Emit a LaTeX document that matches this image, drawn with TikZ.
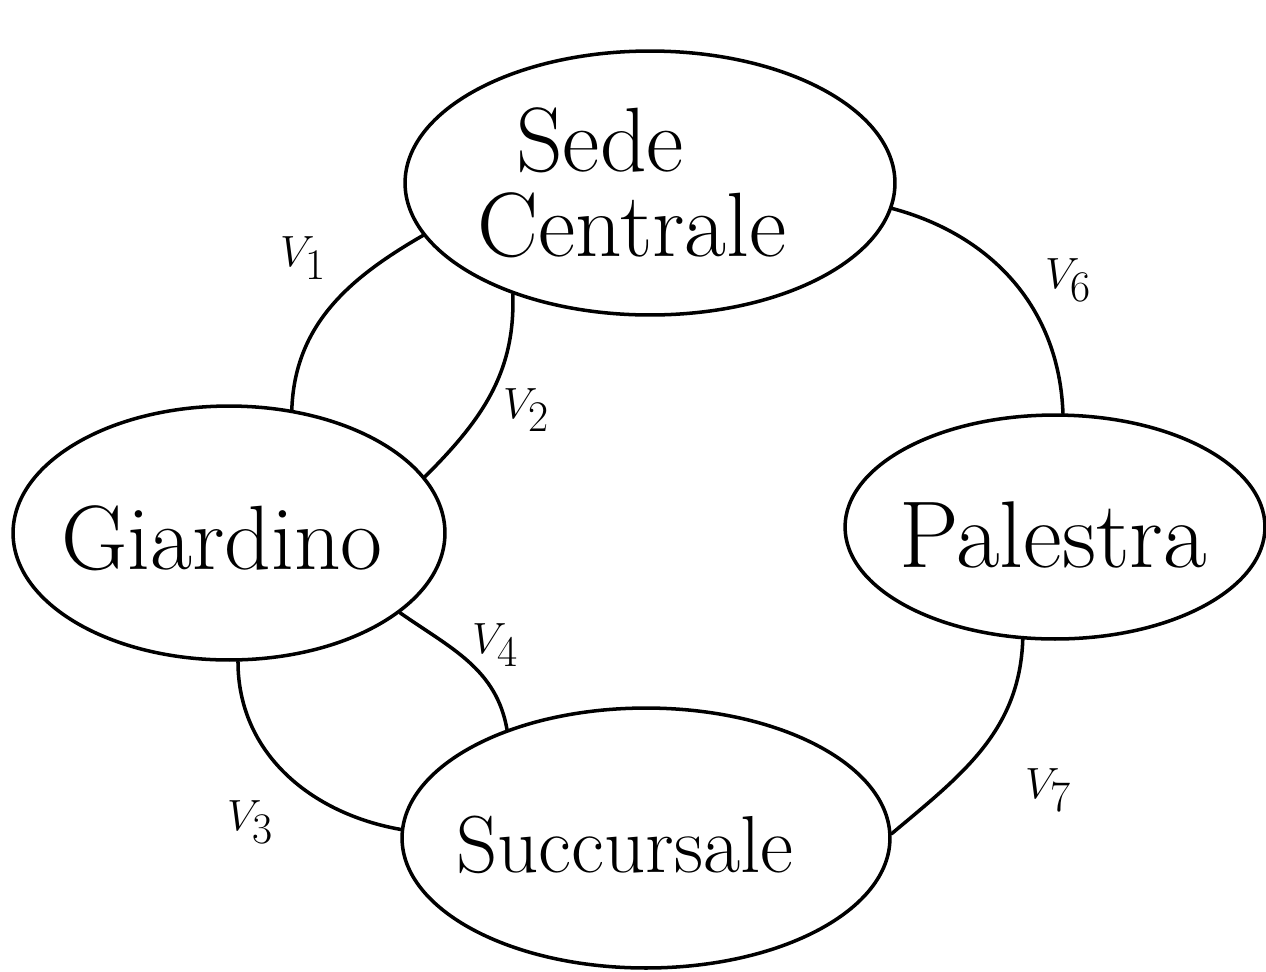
\documentclass[tikz,border=0pt]{standalone}
\usetikzlibrary{shapes.geometric}
\begin{document}
\begin{tikzpicture}[x=0.02cm,y=-0.02cm, line width=2pt, line cap=round,
  place/.style={draw, ellipse, inner sep=0pt},
  lbl/.style={font=\fontsize{36}{40}\selectfont, inner sep=0pt},
  txt/.style={font=\fontsize{52}{56}\selectfont, inner sep=0pt}]
\useasboundingbox (0,0) rectangle (1266,971);
% places
\node[place, minimum width=9.8cm, minimum height=5.28cm] (sede) at (650,183) {};
\node[place, minimum width=8.64cm, minimum height=5.08cm] (giar) at (229,533) {};
\node[place, minimum width=8.4cm, minimum height=4.48cm] (pal) at (1055,527) {};
\node[place, minimum width=9.76cm, minimum height=5.2cm] (succ) at (646,838) {};
% texts
\node[txt] (sedeA) at (600,140) {Sede};
\node[txt] (sedeB) at (632,225) {Centrale};
\node[txt] (giarT) at (222,538) {Giardino};
\node[txt, font=\fontsize{54}{58}\selectfont] (palT) at (1053,535) {Palestra};
\node[txt, font=\fontsize{46}{50}\selectfont] (succT) at (625,845) {Succursale};
% connectors
\draw (sede.193.9) to[out=210,in=88] (giar.63.8);
\draw (sede.219.8) to[out=272,in=45] (giar.16.5);
\draw (giar.274.2) to[out=270,in=170] (succ.178);
\draw (giar.335.6) to[out=-35,in=100] (succ.142.5);
\draw (sede.354.8) to[out=-15,in=92] (pal.86.5);
\draw (pal.254) to[out=268,in=40] (succ.1.4);
% labels
\node[lbl] (v1) at (303,258) {$V_1$};
\node[lbl] (v2) at (526,410) {$V_2$};
\node[lbl] (v3) at (250,822) {$V_3$};
\node[lbl] (v4) at (495,645) {$V_4$};
\node[lbl] (v6) at (1068,280) {$V_6$};
\node[lbl] (v7) at (1048,790) {$V_7$};
\end{tikzpicture}
\end{document}
